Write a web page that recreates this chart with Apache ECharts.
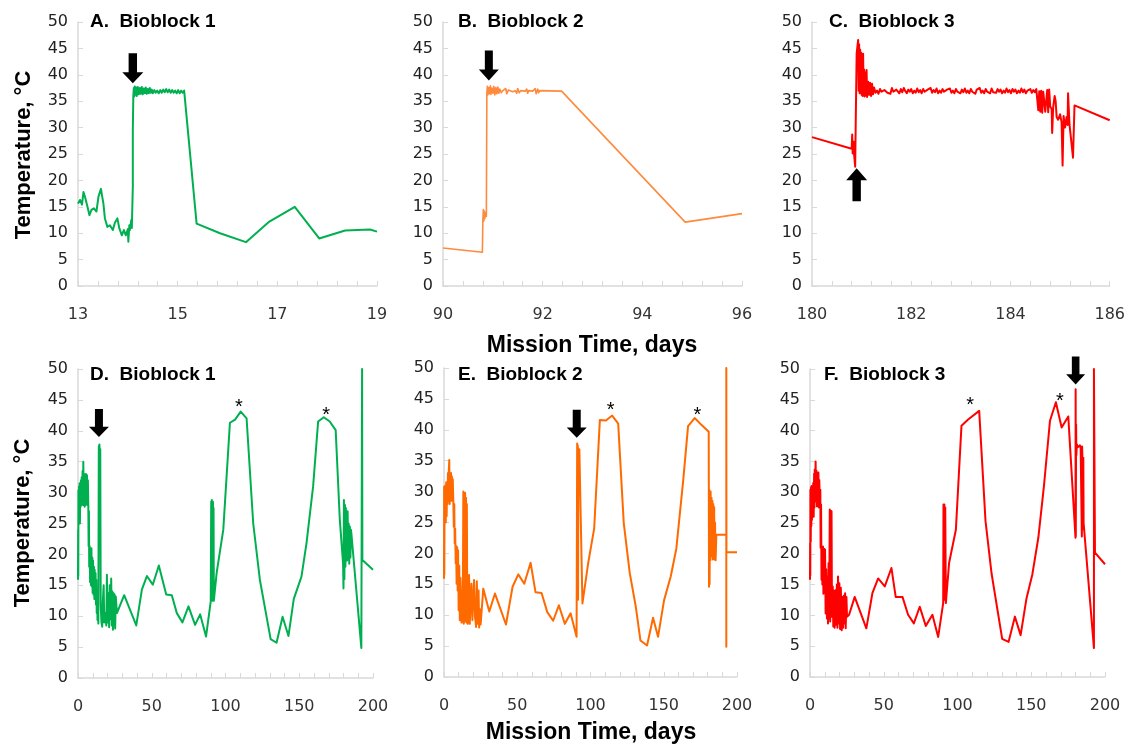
<!DOCTYPE html>
<html><head><meta charset="utf-8">
<script src="https://cdn.jsdelivr.net/npm/echarts@6/dist/echarts.min.js"></script>
<style>html,body{margin:0;padding:0;background:#fff}#c{width:1128px;height:746px}</style>
</head><body><div id="c"></div>
<script>
// ---------- Tick / axis settings ----------
const yTicks = [0, 50, 5];
const xRangeA = [13, 19, 2];
const xRangeB = [90, 96, 2];
const xRangeC = [180, 186, 2];
const xRangeLong = [0, 200, 50];

const panelTitles = ['A.  Bioblock 1', 'B.  Bioblock 2', 'C.  Bioblock 3', 'D.  Bioblock 1', 'E.  Bioblock 2', 'F.  Bioblock 3'];
const yName = 'Temperature, °C';
const xName = 'Mission Time, days';

// ---------- Series data: [mission day, temperature °C] ----------
const bioblock1Zoom = [
 [13.00,15.6],[13.04,16.3],[13.08,15.4],[13.11,17.8],[13.14,16.9],[13.19,15.0],[13.23,13.4],[13.27,14.4],[13.32,14.7],[13.37,14.1],
 [13.41,16.9],[13.46,18.4],[13.51,15.6],[13.54,12.8],[13.59,11.2],[13.64,11.5],[13.70,10.6],[13.74,12.0],[13.79,12.8],[13.83,10.9],
 [13.88,9.6],[13.92,10.6],[13.96,9.6],[14.00,10.8],[14.01,8.4],[14.03,11.5],[14.04,10.6],[14.07,12.5],[14.08,11.0],[14.10,18.8],
 [14.10,29.5],[14.11,36.0],
 [14.12,37.5],[14.13,35.9],[14.14,37.8],[14.15,36.2],[14.17,37.6],[14.18,36.0],[14.20,37.7],[14.22,36.3],[14.24,37.5],[14.26,36.4],
 [14.28,37.7],[14.30,36.3],[14.32,37.4],[14.34,36.5],[14.36,37.6],[14.38,36.4],[14.40,37.3],[14.42,36.5],[14.44,37.5],[14.46,36.6],
 [14.48,37.2],[14.50,36.5],[14.53,37.1],[14.56,36.6],[14.59,37.0],[14.62,36.5],[14.65,37.1],[14.68,36.6],[14.71,37.2],[14.74,36.7],
 [14.77,37.3],[14.80,36.7],[14.83,37.2],[14.86,36.6],[14.89,37.1],[14.92,36.6],[14.95,37.0],[14.98,36.5],[15.01,37.1],[15.04,36.5],
 [15.07,37.0],[15.10,36.6],[15.13,37.0],[15.15,36.8],
 [15.38,11.8],[15.85,10.0],[16.37,8.3],[16.84,12.2],[17.35,15.0],[17.84,9.0],[18.36,10.5],[18.86,10.7],[19.00,10.3]
];

const bioblock2Zoom = [
 [90.00,7.2],[90.79,6.4],[90.80,12.5],[90.81,14.5],[90.82,12.3],[90.83,14.2],[90.84,12.8],[90.85,13.8],[90.87,13.2],[90.88,36.5],
 [90.89,37.8],[90.90,36.2],[90.92,37.6],[90.93,36.4],[90.95,37.9],[90.96,36.3],[90.98,37.5],[91.00,36.5],[91.02,37.8],[91.04,36.2],
 [91.06,37.6],[91.08,36.4],[91.10,37.7],[91.12,36.5],[91.14,37.3],[91.17,36.6],[91.20,37.0],[91.23,36.8],[91.26,37.4],[91.28,36.4],
 [91.31,37.1],[91.35,36.9],[91.40,36.8],[91.45,37.0],[91.48,36.5],[91.50,37.4],[91.53,36.6],[91.56,37.0],[91.60,36.8],[91.65,36.9],
 [91.68,37.3],[91.70,36.5],[91.72,37.0],[91.75,36.8],[91.80,36.9],[91.85,37.4],[91.87,36.4],[91.90,37.3],[91.92,36.6],[91.94,37.0],
 [92.38,36.9],[94.86,12.1],[96.00,13.7]
];

const bioblock3Zoom = [
 [180.00,28.2],[180.80,26.0],[180.81,28.7],[180.82,25.1],[180.84,27.3],[180.85,24.8],[180.87,22.6],[180.88,30.0],[180.90,44.0],[180.93,46.6],
 [180.94,37.0],[180.95,45.8],[180.96,36.5],[180.97,44.8],[180.98,37.0],[180.99,44.2],[181.00,36.2],[181.01,43.5],[181.02,36.0],[181.03,44.0],
 [181.04,36.3],[181.05,41.0],[181.06,35.9],[181.07,40.5],[181.08,36.1],[181.10,40.9],[181.11,35.8],[181.13,38.7],[181.15,36.2],[181.17,38.5],
 [181.19,36.0],[181.21,38.3],[181.23,36.3],[181.25,37.6],
 [181.28,36.6],[181.31,37.0],[181.34,36.4],[181.37,37.3],[181.40,36.8],[181.43,36.5],[181.46,37.1],[181.49,37.4],[181.52,36.6],[181.55,36.9],
 [181.58,36.4],[181.61,37.5],[181.64,36.8],[181.67,36.5],[181.70,37.2],[181.73,36.9],[181.76,36.5],[181.79,37.3],[181.82,36.7],[181.85,37.5],
 [181.88,36.9],[181.91,36.5],[181.94,37.2],[181.97,36.8],[182.00,37.3],[182.03,36.5],[182.06,37.0],[182.09,36.6],[182.12,37.4],[182.15,36.7],
 [182.18,37.1],[182.21,36.5],[182.24,37.3],[182.27,36.8],[182.30,36.5],[182.33,37.2],[182.36,36.9],[182.39,37.5],[182.42,36.6],[182.45,37.1],
 [182.48,36.7],[182.51,37.4],[182.54,36.5],[182.57,37.0],[182.60,36.6],[182.63,37.3],[182.66,36.8],[182.69,36.5],[182.72,37.2],[182.75,36.9],
 [182.78,37.4],[182.81,36.6],[182.84,37.0],[182.87,36.5],[182.90,37.3],[182.93,36.8],[182.96,37.1],[182.99,36.5],[183.02,37.2],[183.05,36.7],
 [183.08,37.4],[183.11,36.6],[183.14,37.0],[183.17,36.5],[183.20,37.3],[183.23,36.8],[183.26,37.1],[183.29,36.4],[183.32,37.2],[183.35,36.9],
 [183.38,37.5],[183.41,36.6],[183.44,37.0],[183.47,36.5],[183.50,37.3],[183.53,36.8],[183.56,37.1],[183.59,36.5],[183.62,37.4],[183.65,36.7],
 [183.68,37.0],[183.71,36.6],[183.74,37.3],[183.77,36.8],[183.80,37.2],[183.83,36.5],[183.86,37.0],[183.89,36.6],[183.92,37.4],[183.95,36.7],
 [183.98,37.1],[184.01,36.5],[184.04,37.3],[184.07,36.8],[184.10,37.2],[184.13,36.5],[184.16,37.0],[184.19,36.6],[184.22,37.4],[184.25,36.7],
 [184.28,37.2],[184.31,36.5],[184.34,37.0],[184.37,36.8],[184.40,37.3],[184.43,36.6],[184.46,37.1],[184.49,36.7],[184.52,37.3],[184.55,37.0],
 [184.56,33.3],[184.58,36.9],[184.60,33.0],[184.62,37.0],[184.64,32.8],[184.66,36.8],[184.70,33.0],[184.74,37.1],[184.76,32.9],[184.78,37.2],
 [184.80,34.0],[184.83,33.5],[184.84,29.0],[184.86,33.8],[184.89,36.0],[184.91,35.0],[184.93,32.0],[184.96,31.5],[185.00,32.5],[185.03,31.0],
 [185.05,22.8],[185.07,32.2],[185.10,30.0],[185.13,32.0],[185.15,30.5],[185.16,36.5],[185.19,30.5],[185.23,30.3],[185.26,24.3],[185.29,34.2],
 [186.00,31.4]
];

const bioblock1Full = [
 [0.0,15.9],[0.1,24.0],[0.2,16.5],[0.3,30.4],[0.5,25.5],[0.7,31.0],[0.9,26.0],[1.1,31.5],[1.3,25.0],[1.5,30.8],
 [1.8,27.7],[2.0,32.0],[2.2,28.0],[2.5,32.5],[2.8,28.5],[3.1,33.5],[3.4,28.0],[3.6,35.0],[3.9,29.0],[4.2,33.0],
 [4.5,27.7],[4.8,32.5],[5.1,28.0],[5.4,33.0],[5.8,28.5],[6.1,32.8],[6.4,28.0],[6.7,32.0],[7.0,27.7],[7.2,21.3],
 [7.4,27.0],[7.6,18.0],[7.9,21.3],[8.2,15.5],[8.5,21.0],[8.8,15.0],[9.1,21.0],[9.4,14.8],[9.7,19.5],[9.9,13.8],
 [10.2,19.0],[10.5,13.5],[10.8,18.0],[11.1,12.8],[11.3,17.5],[11.6,13.2],[11.9,17.0],[12.2,11.9],[12.4,15.9],[12.7,10.5],
 [13.0,14.5],[13.2,9.4],[13.5,12.0],[13.8,8.8],[14.0,8.5],[14.1,37.5],[14.3,36.2],[14.5,37.8],[14.8,36.5],
 [15.1,37.0],[15.2,36.8],[15.4,11.8],[15.9,9.0],[16.4,8.3],[16.8,12.2],[17.4,15.0],[17.8,9.0],[18.4,10.5],[18.9,10.7],[19.2,8.5],
 [19.6,16.7],[20.0,9.0],[20.4,12.5],[20.7,13.7],[21.1,8.2],[21.5,15.0],[22.0,9.5],[22.5,16.1],[22.9,8.5],[23.3,14.0],[23.7,7.8],
 [24.1,13.7],[24.5,8.5],[24.8,13.5],[25.2,8.0],[25.6,13.2],[26.4,10.5],
 [31.3,13.4],[39.5,8.5],[43.3,14.3],[46.7,16.5],[50.7,15.1],[54.8,18.2],[59.8,13.5],[63.6,13.4],[67.0,10.5],[70.8,9.0],
 [74.9,11.6],[79.4,8.6],[82.8,10.3],[86.8,6.7],[90.0,12.4],[90.3,28.5],[90.5,12.6],[90.7,28.8],[90.9,13.0],[91.1,28.2],
 [91.3,12.5],[91.5,28.5],[91.7,13.5],[91.9,27.5],[92.1,12.5],[94.0,17.0],[98.5,24.0],[103.0,41.3],[106.5,41.8],[110.3,43.1],
 [114.3,42.0],[118.8,25.0],[123.3,15.9],[130.6,6.3],[134.6,5.7],[138.7,9.9],[142.7,6.8],[146.3,12.8],[151.5,16.4],[154.9,21.8],
 [159.4,31.0],[162.8,41.5],[166.6,42.2],[170.7,41.5],[174.7,40.1],[177.5,25.6],[179.7,18.6],[180.0,14.5],[180.3,28.8],[180.6,16.0],
 [181.0,28.0],[181.3,18.0],[181.6,27.5],[181.9,20.5],[182.2,26.0],[182.5,19.0],[182.8,27.0],[183.1,21.0],[183.5,25.0],[183.9,18.5],
 [184.3,24.5],[184.7,19.5],[185.0,24.0],[185.3,23.5],[192.1,4.85],[192.6,50.0],[192.8,19.1],[200.0,17.5]
];

const bioblock2Full = [
 [0.0,15.9],[0.1,30.8],[0.2,16.5],[0.4,29.5],[0.6,25.0],[0.9,31.0],[1.2,25.0],[1.5,31.5],[1.8,26.0],[2.1,31.0],
 [2.4,28.0],[2.7,33.0],[3.0,28.5],[3.3,33.5],[3.6,35.1],[3.9,28.0],[4.2,33.0],[4.5,28.5],[4.8,33.0],[5.1,29.0],
 [5.4,32.5],[5.7,28.5],[6.0,32.0],[6.4,28.0],[6.7,24.3],[7.0,28.0],[7.3,21.6],[7.6,24.0],[8.0,18.4],[8.3,21.2],
 [8.6,15.1],[9.0,21.0],[9.3,14.0],[9.6,20.5],[10.0,10.8],[10.4,18.0],[10.8,9.2],[11.2,16.0],[11.6,13.5],[12.0,8.8],
 [12.4,12.0],[12.8,9.0],[13.2,30.0],[13.5,8.6],[13.8,29.5],[14.1,9.0],[14.4,29.8],[14.7,9.5],[15.0,29.0],[15.3,8.8],
 [15.6,28.0],[15.9,10.0],[16.2,8.6],[17.1,16.5],[17.6,8.6],[18.7,15.1],[19.4,9.2],[20.5,15.7],[21.2,9.7],[21.9,8.1],
 [22.4,15.5],[23.0,8.6],[23.6,14.0],[24.0,8.0],[24.4,11.0],[25.0,8.5],[26.8,14.3],[30.9,10.6],[34.8,13.5],[42.3,8.5],
 [46.8,14.6],[50.7,16.6],[54.8,15.1],[59.1,18.5],[62.5,13.7],[66.6,13.6],[70.5,10.5],[74.5,9.1],[78.4,11.6],[82.5,8.6],
 [86.4,10.3],[90.5,6.5],[90.9,37.8],[91.1,20.0],[91.3,37.5],[91.5,12.5],[91.7,37.0],[92.0,30.0],[92.4,36.8],[94.5,11.9],
 [98.4,18.4],[102.5,24.0],[106.4,41.6],[110.5,41.5],[114.8,42.3],[118.9,41.0],[122.7,24.9],[126.8,16.8],[130.9,11.4],[134.1,5.9],
 [138.6,5.1],[142.7,9.6],[146.1,6.5],[150.2,12.4],[154.8,16.3],[158.6,20.8],[163.2,31.6],[166.6,40.6],[171.1,41.9],[175.7,40.8],
 [180.7,39.7],[180.9,14.6],[181.1,30.3],[181.3,15.0],[181.5,29.5],[181.8,18.9],[182.0,30.0],[182.3,19.5],[182.6,29.0],[182.9,20.0],
 [183.2,28.5],[183.5,19.0],[183.8,28.0],[184.1,21.0],[184.4,27.5],[184.7,19.0],[185.0,25.0],[185.4,18.9],[185.9,23.0],[192.7,23.0],
 [192.7,4.9],[192.7,50.0],[192.8,20.2],[200.0,20.2]
];

const bioblock3Full = [
 [0.0,15.8],[0.1,21.7],[0.2,16.5],[0.3,30.4],[0.5,22.0],[0.7,30.8],[0.9,24.5],[1.1,31.0],[1.3,25.5],[1.6,31.0],
 [1.9,26.5],[2.2,31.5],[2.5,26.0],[2.8,33.0],[3.0,27.5],[3.2,33.7],[3.5,28.5],[3.8,35.0],[4.1,29.0],[4.4,33.5],
 [4.7,27.7],[5.0,32.5],[5.3,28.0],[5.7,33.2],[6.0,27.5],[6.3,32.0],[6.6,28.3],[7.0,30.4],[7.2,21.0],[7.5,28.0],
 [7.8,15.8],[8.1,21.2],[8.4,15.0],[8.8,21.2],[9.1,13.5],[9.5,20.8],[9.8,14.1],[10.2,20.7],[10.6,10.3],[11.0,17.5],
 [11.5,9.5],[11.9,16.3],[12.2,8.7],[12.6,18.5],[13.0,9.5],[13.4,27.2],[13.7,9.0],[14.0,27.0],[14.3,9.8],[14.6,26.9],
 [14.9,9.8],[15.4,14.7],[15.8,8.2],[16.2,14.0],[16.7,8.0],[17.2,14.1],[17.7,8.5],[18.2,15.0],[18.6,8.0],[19.0,16.3],
 [19.4,8.7],[19.9,15.2],[20.4,7.8],[20.9,14.5],[21.5,7.6],[22.0,13.0],[22.4,8.0],[22.9,13.2],[23.3,8.7],[23.8,13.6],
 [24.2,7.9],[24.7,13.0],[25.1,9.8],[26.5,10.1],[30.3,13.0],[38.2,7.9],[42.3,13.6],[46.2,16.0],
 [50.7,14.7],[55.2,17.7],[58.1,13.0],[62.7,13.0],[66.5,10.1],[70.4,8.7],[74.4,11.4],[78.5,8.3],[83.0,10.1],[86.9,6.5],
 [90.3,12.0],[90.5,28.0],[90.8,12.5],[91.1,28.0],[91.4,13.0],[91.7,27.5],[92.1,12.0],[94.3,18.5],[98.9,23.9],[102.7,40.8],
 [107.2,41.8],[114.7,43.2],[119.0,25.3],[123.1,16.8],[130.3,6.2],[134.6,5.7],[138.9,9.8],[142.8,6.8],[146.8,12.8],[150.7,16.6],
 [154.8,22.6],[158.6,31.0],[162.7,41.6],[166.7,44.6],[170.6,40.5],[175.1,42.3],[180.0,22.6],[180.1,46.7],[180.2,22.8],[180.4,41.0],
 [180.6,36.0],[180.9,37.8],[181.5,37.3],[182.0,37.6],[182.5,37.3],[183.0,37.6],[183.5,37.2],[184.0,37.5],[184.3,22.8],[184.5,37.4],
 [184.8,34.0],[185.0,24.0],[185.3,35.6],[185.5,25.0],[192.5,4.7],[192.5,50.0],[193.2,20.2],[200.0,18.3]
];

// ---------- Annotations: arrow tips and asterisks ----------
const arrowTips = [[14.10,38.4],[90.92,38.9],[180.90,22.3],[14.2,39.0],[90.6,38.7],[180.1,47.5]];
const arrowSizes = [[21,30],[20,30],[21,33],[20,28],[20,28],[19,28]];
const asterisksD = [[109.0,44.5],[168.3,43.2]];
const asterisksE = [[113.8,43.7],[172.9,42.9]];
const asterisksF = [[108.5,44.7],[169.5,45.4]];

// ---------- Styling ----------
const colors = ['#00b050','#ff8a3d','#ff0000','#00b050','#ff6a00','#ff0000'];
const lineWidths = [2, 1.6, 2, 2, 2, 2];
const grids = [
 {left:78, top:22, width:299, height:264},
 {left:443, top:22, width:299, height:264},
 {left:812, top:22, width:298, height:264},
 {left:78, top:369, width:295, height:309},
 {left:444, top:368, width:293, height:309},
 {left:810, top:369, width:295, height:308}
];
const titlePos = [[90,12],[458,12],[829,12],[90,365],[458,365],[824,365]];
const ranges = [xRangeA, xRangeB, xRangeC, xRangeLong, xRangeLong, xRangeLong];
const dataSets = [bioblock1Zoom, bioblock2Zoom, bioblock3Zoom, bioblock1Full, bioblock2Full, bioblock3Full];
const asteriskSets = [[],[],[],asterisksD, asterisksE, asterisksF];

const DOWN = 'path://M6,0L14,0L14,19L20,19L10,30L0,19L6,19Z';
const UP = 'path://M0,11L10,0L20,11L14,11L14,30L6,30L6,11Z';
const axisGray = '#d9d9d9';
const labelFont = 'DejaVu Sans';
const boldFont = 'Liberation Sans';

const xAxes = [], yAxes = [], series = [], titles = [];
for (let i = 0; i < 6; i++) {
  const r = ranges[i];
  xAxes.push({
    type:'value', gridIndex:i, min:r[0], max:r[1], interval:r[2],
    axisLine:{show:true, lineStyle:{color:axisGray, width:1.5}},
    axisTick:{show:true, inside:true, length:5, lineStyle:{color:axisGray}},
    minorTick:{show:true, splitNumber:5, length:5, lineStyle:{color:axisGray}},
    splitLine:{show:false},
    axisLabel:{margin:21, fontSize:16, fontFamily:labelFont, color:'#333', showMinLabel:true, showMaxLabel:true}
  });
  yAxes.push({
    type:'value', gridIndex:i, min:yTicks[0], max:yTicks[1], interval:yTicks[2],
    axisLine:{show:true, lineStyle:{color:axisGray, width:1.5}},
    axisTick:{show:true, inside:true, length:5, lineStyle:{color:axisGray}},
    splitLine:{show:false},
    axisLabel:{margin:10, fontSize:16, fontFamily:labelFont, color:'#222'}
  });
  const up = (i===2);
  const mp = [{
    coord: arrowTips[i], symbol: up?UP:DOWN, symbolSize: arrowSizes[i],
    symbolOffset:[0, up?'50%':'-50%'], symbolKeepAspect:false,
    itemStyle:{color:'#000'}, label:{show:false}
  }];
  asteriskSets[i].forEach(p => mp.push({
    coord:p, symbol:'rect', symbolSize:1, itemStyle:{color:'rgba(0,0,0,0)'},
    label:{show:true, position:'inside', formatter:'*', fontSize:20, fontFamily:boldFont, color:'#000', offset:[0,4]}
  }));
  series.push({
    type:'line', xAxisIndex:i, yAxisIndex:i, data:dataSets[i],
    showSymbol:false, symbol:'none', animation:false, clip:true,
    lineStyle:{color:colors[i], width:lineWidths[i], join:'round'},
    itemStyle:{color:colors[i]},
    markPoint:{silent:true, animation:false, data:mp}
  });
  titles.push({
    text:panelTitles[i], left:titlePos[i][0], top:titlePos[i][1], padding:0,
    textStyle:{fontSize:19, fontWeight:'bold', fontFamily:boldFont, color:'#000'}
  });
}

// axis titles as text elements
const axisTitleSpecs = [
  {text:yName, x:24, y:155, rot:Math.PI/2, size:22},
  {text:yName, x:23, y:523, rot:Math.PI/2, size:22},
  {text:xName, x:592, y:346, rot:0, size:23},
  {text:xName, x:591, y:733, rot:0, size:23}
];
const graphics = axisTitleSpecs.map(s => ({
  type:'text', x:s.x, y:s.y, rotation:s.rot, silent:true,
  style:{text:s.text, fontSize:s.size, fontWeight:'bold', fontFamily:boldFont, fill:'#000', align:'center', verticalAlign:'middle'}
}));

const chart = echarts.init(document.getElementById('c'));
chart.setOption({
  backgroundColor:'#fff', animation:false,
  title:titles, grid:grids, xAxis:xAxes, yAxis:yAxes, series:series, graphic:graphics
});
</script></body></html>
